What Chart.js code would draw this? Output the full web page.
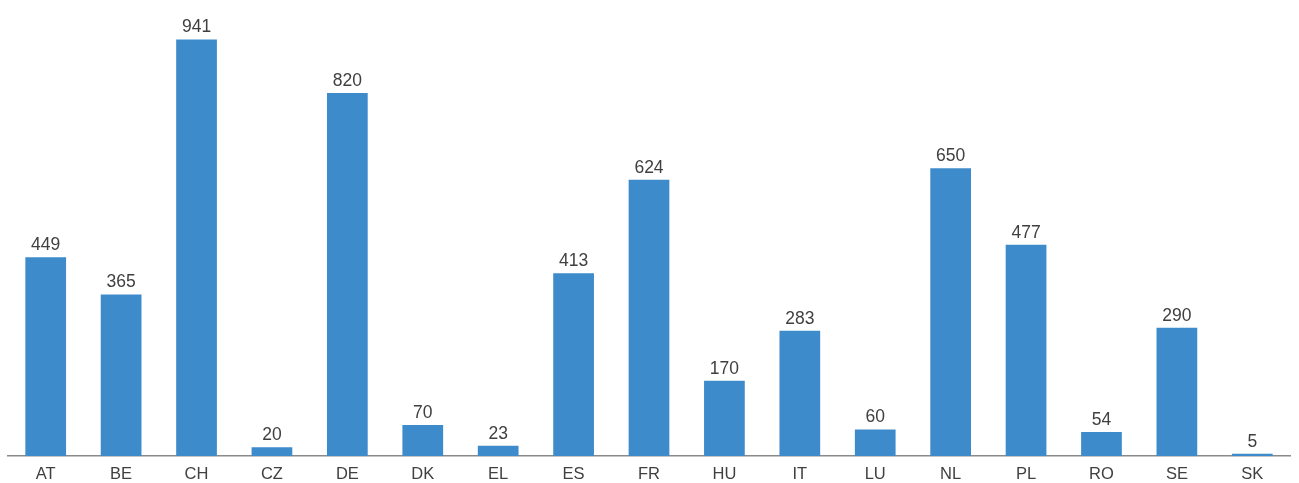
<!DOCTYPE html>
<html lang="en">
<head>
    <meta charset="UTF-8">
    <title>Values by country</title>
    <script src="https://cdn.jsdelivr.net/npm/chart.js"></script>
    <style>
        html, body { margin: 0; padding: 0; background: #fff; }
        .chart { position: relative; width: 1299px; height: 483px; }
    </style>
</head>
<body>
    <div class="chart">
        <canvas id="countryChart"></canvas>
    </div>

    <script>
        const countries = ['AT', 'BE', 'CH', 'CZ', 'DE', 'DK', 'EL', 'ES', 'FR', 'HU', 'IT', 'LU', 'NL', 'PL', 'RO', 'SE', 'SK'];
        const values = [449, 365, 941, 20, 820, 70, 23, 413, 624, 170, 283, 60, 650, 477, 54, 290, 5];

        // writes each bar's value just above it
        const valueLabels = {
            id: 'valueLabels',
            afterDatasetsDraw(chart) {
                const ctx = chart.ctx;
                const meta = chart.getDatasetMeta(0);
                ctx.save();
                ctx.font = '17.5px "Liberation Sans", Arial, sans-serif';
                ctx.fillStyle = '#404040';
                ctx.textAlign = 'center';
                ctx.textBaseline = 'alphabetic';
                meta.data.forEach((bar, i) => {
                    ctx.fillText(values[i], bar.x, bar.y - 7);
                });
                ctx.restore();
            }
        };

        new Chart(document.getElementById('countryChart'), {
            type: 'bar',
            data: {
                labels: countries,
                datasets: [{
                    data: values,
                    backgroundColor: '#3e8bcc',
                    barPercentage: 0.6,
                    categoryPercentage: 0.9
                }]
            },
            options: {
                responsive: true,
                maintainAspectRatio: false,
                animation: false,
                layout: {
                    padding: { top: 20, left: 8, right: 9, bottom: 0 }
                },
                plugins: {
                    legend: { display: false },
                    tooltip: { enabled: false }
                },
                scales: {
                    y: {
                        display: false,
                        min: 0,
                        max: 985
                    },
                    x: {
                        grid: { display: false },
                        border: { color: '#8a8a8a', width: 1.5 },
                        afterFit(scale) {
                            scale.height = 27;
                        },
                        ticks: {
                            color: '#404040',
                            padding: 1,
                            font: { family: '"Liberation Sans", Arial, sans-serif', size: 16.5 }
                        }
                    }
                }
            },
            plugins: [valueLabels]
        });
    </script>
</body>
</html>
